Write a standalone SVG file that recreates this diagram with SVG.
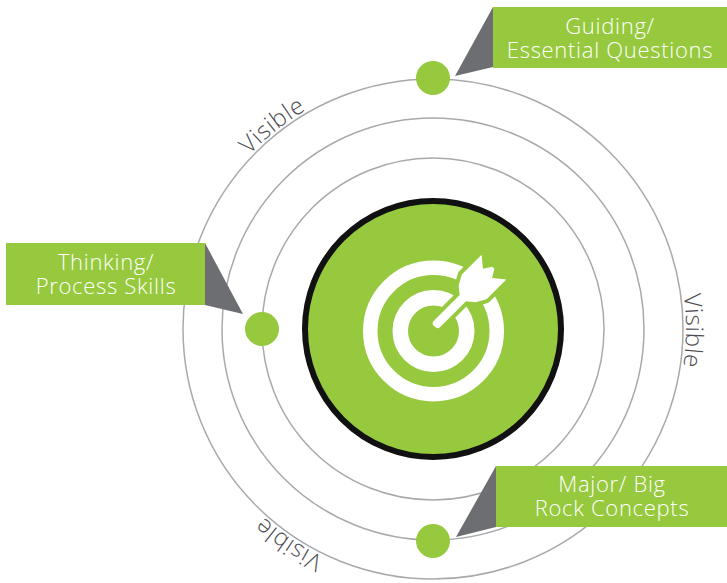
<svg xmlns="http://www.w3.org/2000/svg" xmlns:xlink="http://www.w3.org/1999/xlink" width="727" height="583" viewBox="0 0 727 583">
<style>
.ring{fill:none;stroke:#a7a9ac;stroke-width:1.5}
.box{fill:#96c93d}
.ptr{fill:#6d6e71}
.dot{fill:#96c93d}
.lbl{font-family:"Open Sans","Lato","Liberation Sans",sans-serif;font-weight:300;font-size:22px;letter-spacing:0.7px;fill:#ffffff;text-anchor:middle}
.vis{font-family:"Open Sans","Lato","Liberation Sans",sans-serif;font-weight:300;font-size:24px;letter-spacing:0.6px;fill:#4d4d4f;text-anchor:middle}
</style>
<defs>
<path id="orbit" d="M433,76 A253,253 0 1 1 433,582 A253,253 0 1 1 433,76"/>
<g id="arrow">
<rect x="4" y="-4.5" width="46" height="9" rx="3.5"/>
<polygon points="44,-4.5 50,-12 60,-17.5 88,-17.5 79,-6.5 87,-1.5 87,1.5 79,6.5 88,17.5 60,17.5 50,12 44,4.5"/>
</g>
</defs>
<rect width="727" height="583" fill="#ffffff"/>
<g id="rings">
<circle class="ring" cx="433" cy="329" r="250"/>
<circle class="ring" cx="433" cy="329" r="211"/>
<circle class="ring" cx="433" cy="329" r="171"/>
</g>
<g id="visible-labels">
<text class="vis"><textPath xlink:href="#orbit" href="#orbit" startOffset="1420">Visible</textPath></text>
<text class="vis"><textPath xlink:href="#orbit" href="#orbit" startOffset="399">Visible</textPath></text>
<text class="vis"><textPath xlink:href="#orbit" href="#orbit" startOffset="944">Visible</textPath></text>
</g>
<g id="center-target">
<circle cx="433" cy="329" r="128" fill="#96c93d" stroke="#111111" stroke-width="6"/>
<circle cx="433.5" cy="331" r="63.25" fill="none" stroke="#ffffff" stroke-width="14.5"/>
<circle cx="433.5" cy="331" r="33.25" fill="none" stroke="#ffffff" stroke-width="15.5"/>
<g transform="translate(433.5,331) rotate(-45) translate(0,-2.5)">
<use href="#arrow" xlink:href="#arrow" fill="#96c93d" stroke="#96c93d" stroke-width="8" stroke-linejoin="round"/>
<use href="#arrow" xlink:href="#arrow" fill="#ffffff"/>
</g>
</g>
<g id="connectors">
<polygon class="ptr" points="493,7 455,76 493,67"/>
<polygon class="ptr" points="205,243 243,314 205,305"/>
<polygon class="ptr" points="496,466 456,537 496,527"/>
</g>
<g id="node-guiding">
<rect class="box" x="493" y="7" width="234" height="61"/>
<circle class="dot" cx="433" cy="78" r="17"/>
<text class="lbl" x="610" y="34">Guiding/</text>
<text class="lbl" x="610" y="58">Essential Questions</text>
</g>
<g id="node-thinking">
<rect class="box" x="6" y="243" width="199" height="62"/>
<circle class="dot" cx="262" cy="329" r="17"/>
<text class="lbl" x="106" y="270">Thinking/</text>
<text class="lbl" x="106" y="294">Process Skills</text>
</g>
<g id="node-major">
<rect class="box" x="496" y="466" width="231" height="61"/>
<circle class="dot" cx="433" cy="541" r="17"/>
<text class="lbl" x="612" y="492">Major/ Big</text>
<text class="lbl" x="612" y="516">Rock Concepts</text>
</g>
</svg>
